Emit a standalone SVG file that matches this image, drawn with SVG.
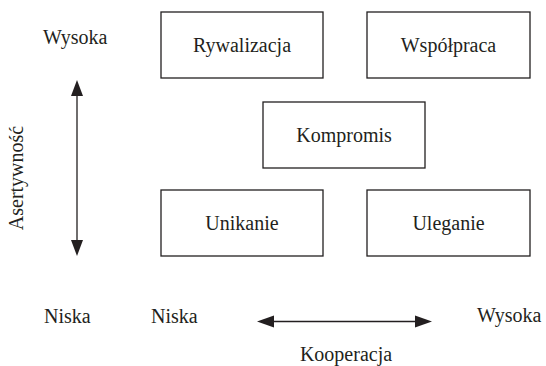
<svg xmlns="http://www.w3.org/2000/svg" width="546" height="366" viewBox="0 0 546 366">
<style>
.box{fill:#fff;stroke:#231f20;stroke-width:1.3}
.t{font-family:"Liberation Serif","Times New Roman",serif;font-size:20px;fill:#231f20}
.c{text-anchor:middle}
.ax{stroke:#231f20;stroke-width:1.3;fill:none}
.hd{fill:#231f20}
</style>
<rect width="546" height="366" fill="#fff"/>
<g id="rywalizacja"><rect class="box" x="161" y="12" width="162" height="66"/><text class="t c" x="242" y="52">Rywalizacja</text></g>
<g id="wspolpraca"><rect class="box" x="367" y="12" width="163" height="66"/><text class="t c" x="448.5" y="52">Współpraca</text></g>
<g id="kompromis"><rect class="box" x="263" y="102" width="162" height="66"/><text class="t c" x="344" y="142">Kompromis</text></g>
<g id="unikanie"><rect class="box" x="161" y="190" width="162" height="66"/><text class="t c" x="242" y="230">Unikanie</text></g>
<g id="uleganie"><rect class="box" x="367" y="190" width="163" height="66"/><text class="t c" x="448.5" y="230">Uleganie</text></g>
<g id="connectors">
<line class="ax" x1="77" y1="94" x2="77" y2="242"/>
<polygon class="hd" points="77,80 71,96 83,96"/>
<polygon class="hd" points="77,256 71,240 83,240"/>
<line class="ax" x1="272" y1="321.5" x2="417" y2="321.5"/>
<polygon class="hd" points="257,321.5 274,315.5 274,327.5"/>
<polygon class="hd" points="432,321.5 415,315.5 415,327.5"/>
</g>
<g id="labels">
<text class="t" x="43" y="44">Wysoka</text>
<text class="t c" x="0" y="0" transform="translate(23,178) rotate(-90)">Asertywność</text>
<text class="t" x="44" y="323">Niska</text>
<text class="t" x="151" y="323">Niska</text>
<text class="t" x="477" y="322">Wysoka</text>
<text class="t c" x="346" y="361">Kooperacja</text>
</g>
</svg>
